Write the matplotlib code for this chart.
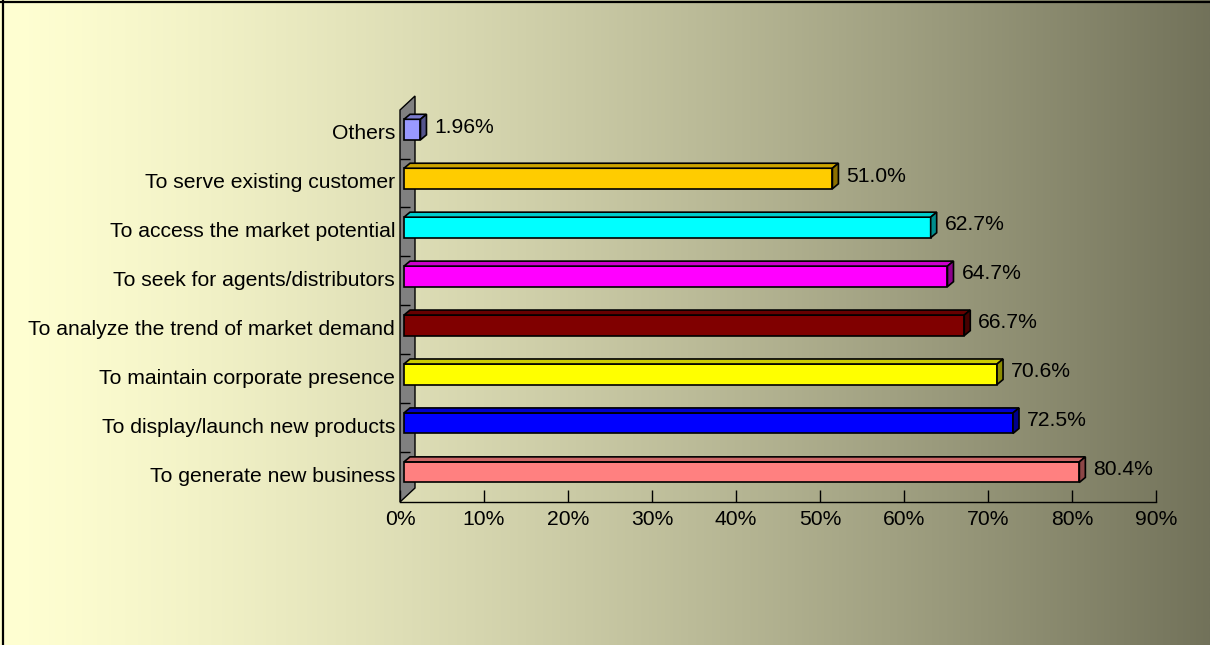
import numpy as np
import matplotlib.pyplot as plt
from matplotlib.patches import Polygon
from matplotlib.lines import Line2D

plt.rcParams['font.family'] = ['Liberation Sans', 'DejaVu Sans']

categories = ['To generate new business', 'To display/launch new products',
              'To maintain corporate presence', 'To analyze the trend of market demand',
              'To seek for agents/distributors', 'To access the market potential',
              'To serve existing customer', 'Others']
values = [80.4, 72.5, 70.6, 66.7, 64.7, 62.7, 51.0, 1.96]
value_labels = ['80.4%', '72.5%', '70.6%', '66.7%', '64.7%', '62.7%', '51.0%', '1.96%']
bar_colors = ['#FF8080', '#0000FF', '#FFFF00', '#800000', '#FF00FF', '#00FFFF', '#FFCC00', '#9999FF']
x_ticks = [0, 10, 20, 30, 40, 50, 60, 70, 80, 90]
x_tick_labels = ['%d%%' % v for v in x_ticks]

FS = 15.2
W, H = 1210, 645
fig = plt.figure(figsize=(W / 100, H / 100), dpi=100)

# gradient background
bg = fig.add_axes([0, 0, 1, 1], zorder=-10)
t = np.linspace(0, 1, 800) ** 1.32
c_left = np.array([255, 255, 210]) / 255
c_right = np.array([114, 114, 90]) / 255
grad = c_left[None, :] + (c_right - c_left)[None, :] * t[:, None]
bg.imshow(grad[None, :, :], aspect='auto', extent=[0, 1, 0, 1])
bg.axis('off')

# frame lines top / left
fig.add_artist(Line2D([0, 1], [1 - 1.5 / H, 1 - 1.5 / H], color='black', lw=1.6))
fig.add_artist(Line2D([2.5 / W, 2.5 / W], [0, 1], color='black', lw=1.6))

ax_l, ax_w, ax_t, ax_b = 400, 756, 110, 502
ax = fig.add_axes([ax_l / W, 1 - ax_b / H, ax_w / W, (ax_b - ax_t) / H])
ymin, ymax = -0.61, 7.4
ax.set_xlim(0, 90)
ax.set_ylim(ymin, ymax)
ax.patch.set_alpha(0)
px = 90 / ax_w
py = (ymax - ymin) / (ax_b - ax_t)

for s in ['top', 'right', 'left']:
    ax.spines[s].set_visible(False)
ax.spines['bottom'].set_color('black')
ax.spines['bottom'].set_linewidth(1)

ax.set_xticks(x_ticks)
ax.set_xticklabels(x_tick_labels, fontsize=FS)
ax.tick_params(axis='x', direction='in', length=9, width=1, pad=6)
ax.set_yticks([i - 2 * py for i in range(len(categories))])
ax.set_yticklabels(categories, fontsize=FS)
ax.tick_params(axis='y', which='major', length=0, pad=3.6)
ax.set_yticks([i + 0.5 - 4.5 * py for i in range(len(categories) - 1)], minor=True)
ax.tick_params(axis='y', which='minor', direction='in', length=7, width=1)

# side wall
wdx, wdy = 15 * px, 14 * py
wall = Polygon([(0, ymin), (0, ymax), (wdx, ymax + wdy), (wdx, ymin + wdy)],
               closed=True, facecolor='#808080', edgecolor='black', lw=1,
               zorder=0.5, clip_on=False)
ax.add_patch(wall)

# 3d bars
h = 0.42
x0 = 4 * px
dx, dy = 6 * px, 5 * py
ax.barh(range(len(values)), values, height=h, left=x0, color=bar_colors,
        edgecolor='black', linewidth=1.2, zorder=3)
for i, (v, c) in enumerate(zip(values, bar_colors)):
    rgb = np.array(plt.matplotlib.colors.to_rgb(c))
    top = [(x0, i + h / 2), (x0 + v, i + h / 2), (x0 + v + dx, i + h / 2 + dy), (x0 + dx, i + h / 2 + dy)]
    side = [(x0 + v, i - h / 2), (x0 + v, i + h / 2), (x0 + v + dx, i + h / 2 + dy), (x0 + v + dx, i - h / 2 + dy)]
    ax.add_patch(Polygon(top, closed=True, facecolor=rgb * 0.8, edgecolor='black', lw=1.2, zorder=3, clip_on=False))
    ax.add_patch(Polygon(side, closed=True, facecolor=rgb * 0.55, edgecolor='black', lw=1.2, zorder=3, clip_on=False))
    ax.text(x0 + v + dx + 8 * px, i + dy / 2, value_labels[i], fontsize=FS,
            va='center', ha='left', zorder=4)

fig.savefig('out.png', dpi=100)
